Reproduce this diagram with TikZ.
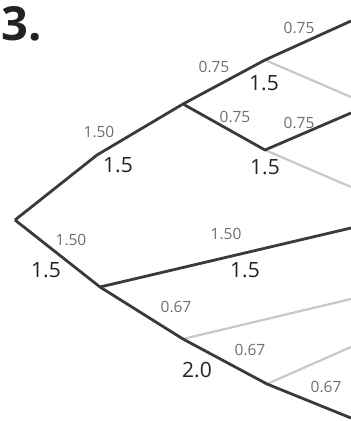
\documentclass[tikz,border=0pt]{standalone}
\usepackage{fontspec}
\setmainfont{Open Sans}
\usetikzlibrary{positioning}
\definecolor{branch}{HTML}{3A3A3A}
\definecolor{faint}{HTML}{C8C8C8}
\definecolor{rate}{HTML}{6E6E6E}
\definecolor{len}{HTML}{222222}

\begin{document}
\begin{tikzpicture}[x=1pt, y=-1pt,
	every node/.style={inner sep=0pt},
	live/.style={draw=branch, line width=2.8pt, line join=round},
	dead/.style={draw=faint, line width=2.2pt},
	rlab/.style={text=rate, font=\fontsize{15.5}{17}\selectfont},
	blab/.style={text=len, font=\fontsize{21}{23}\selectfont}]
	\useasboundingbox (0,0) rectangle (351,421);
	\node[font=\fontsize{47}{49}\selectfont\bfseries, text=len] (num) at (22,24) {3.};
	% branch points
	\coordinate (r) at (15,220);
	\coordinate (a) at (97,155);
	\coordinate (b) at (183,104);
	\coordinate (c) at (265,60);
	\coordinate (d) at (265,150);
	\coordinate (e) at (100,287);
	\coordinate (f) at (183,339);
	\coordinate (g) at (267,384);
	% free ends at the right edge
	\coordinate (c1) at (351,21);
	\coordinate (c2) at (351,97);
	\coordinate (d1) at (351,113);
	\coordinate (d2) at (351,187);
	\coordinate (e1) at (351,228);
	\coordinate (f1) at (351,299);
	\coordinate (g1) at (351,347);
	\coordinate (g2) at (351,418);
	\draw[dead] (c) -- (c2);
	\draw[dead] (d) -- (d2);
	\draw[dead] (f) -- (f1);
	\draw[dead] (g) -- (g1);
	\draw[live] (r) -- (a) -- (b) -- (c) -- (c1);
	\draw[live] (b) -- (d) -- (d1);
	\draw[live] (r) -- (e) -- (e1);
	\draw[live] (e) -- (f) -- (g) -- (g2);
	% rates
	\node[rlab] (rc1) at (299,28) {0.75};
	\node[rlab] (rbc) at (214,67) {0.75};
	\node[rlab] (rbd) at (235,117) {0.75};
	\node[rlab] (rd1) at (299,123) {0.75};
	\node[rlab] (rra) at (99,132) {1.50};
	\node[rlab] (rre) at (71,240) {1.50};
	\node[rlab] (re1) at (226,234) {1.50};
	\node[rlab] (ref) at (176,307) {0.67};
	\node[rlab] (rfg) at (250,350) {0.67};
	\node[rlab] (rg2) at (326,387) {0.67};
	% lengths
	\node[blab] (lc) at (264,83) {1.5};
	\node[blab] (la) at (118,165) {1.5};
	\node[blab] (ld) at (265,167) {1.5};
	\node[blab] (le) at (46,270) {1.5};
	\node[blab] (le1) at (245,270) {1.5};
	\node[blab] (lf) at (197,370) {2.0};
\end{tikzpicture}
\end{document}
